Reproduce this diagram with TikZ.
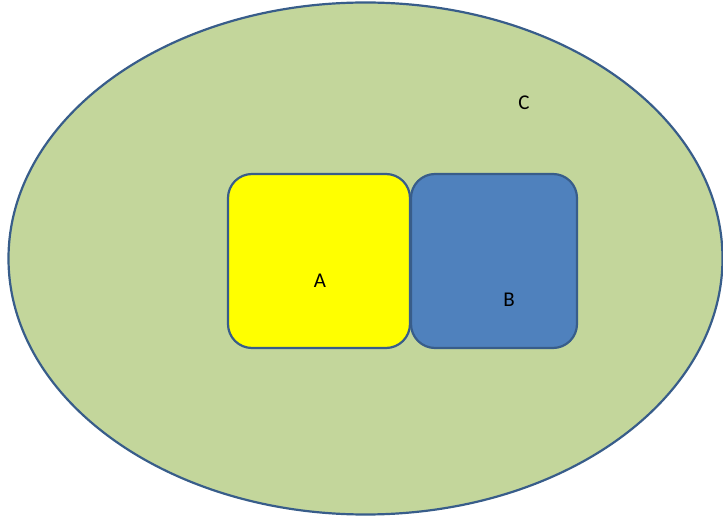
\documentclass[tikz,border=0pt]{standalone}
\usepackage{fontspec}
\setmainfont{Carlito}
\usetikzlibrary{positioning,shapes.geometric}
\definecolor{setgreen}{RGB}{195,214,155}
\definecolor{setyellow}{RGB}{255,255,0}
\definecolor{setblue}{RGB}{79,129,189}
\definecolor{setedge}{RGB}{56,93,138}

\tikzset{
  setbox/.style={draw=setedge,line width=2.2pt,rounded corners=24pt,
                 minimum height=174pt,inner sep=0pt},
  setlabel/.style={font=\fontsize{21}{25}\selectfont,text=black}
}

\begin{document}
\begin{tikzpicture}[x=1pt,y=-1pt]
    \useasboundingbox (0,0) rectangle (723,518);
    % Conjunto universo C
    \node[ellipse,draw=setedge,line width=2.2pt,fill=setgreen,inner sep=0pt,
          minimum width=714pt,minimum height=512pt] (C) at (365.5,258.5) {};
    \node[setlabel] (lblC) at (524,103) {C};
    % Conjunto A
    \node[setbox,fill=setyellow,minimum width=182pt] (A) at (319,261) {};
    \node[setlabel] (lblA) at (320,281) {A};
    % Conjunto B
    \node[setbox,fill=setblue,minimum width=166pt] (B) at (494,261) {};
    \node[setlabel] (lblB) at (509,300) {B};
\end{tikzpicture}
\end{document}
